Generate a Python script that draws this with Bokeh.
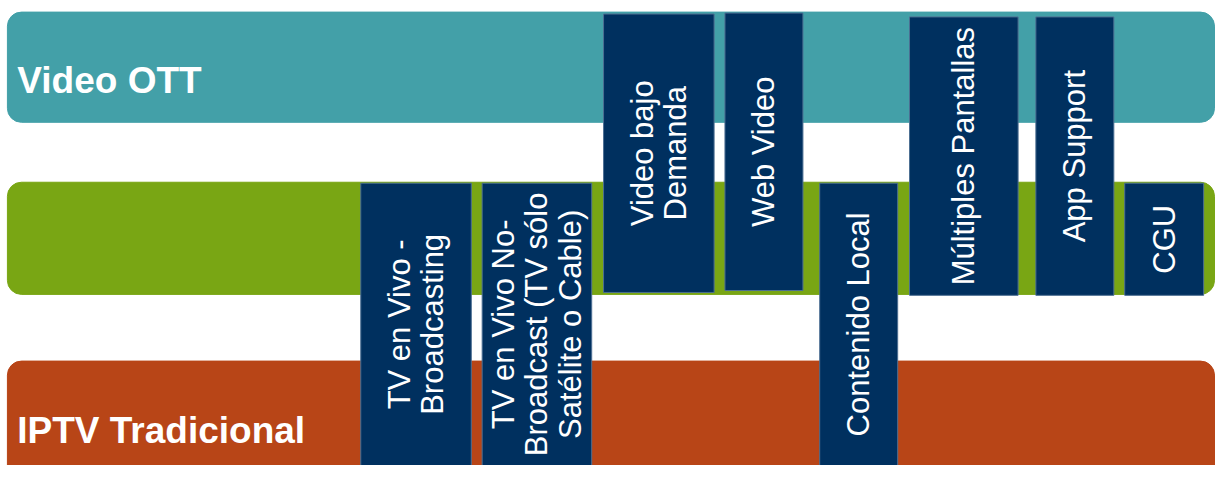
from bokeh.plotting import figure
from bokeh.models import Range1d, ColumnDataSource
from bokeh.core.properties import value
from bokeh.embed import file_html
from bokeh.resources import INLINE
import math

# Horizontal bands (layers)
band_labels = ["Video OTT", "", "IPTV Tradicional"]
band_top = [12, 188, 373]
band_bottom = [126, 304, 500]
band_left = [7, 7, 7]
band_right = [1230, 1230, 1230]
band_colors = ["#43A0A8", "#79A614", "#B84517"]
band_label_baseline = [83, 246, 445]

# Vertical service boxes
box_labels = [
    "TV en Vivo -\nBroadcasting",
    "TV en Vivo No-\nBroadcast (TV sólo\nSatélite o Cable)",
    "Video bajo\nDemanda",
    "Web Video",
    "Contenido Local",
    "Múltiples Pantallas",
    "App Support",
    "CGU",
]
box_left = [365, 488, 611, 734, 830, 921, 1049, 1139]
box_right = [477, 599, 723, 813, 909, 1031, 1128, 1219]
box_top = [189, 189, 14, 13, 189, 17, 17, 189]
box_bottom = [490, 490, 302, 300, 490, 305, 305, 305]

p = figure(width=1215, height=465, output_backend="svg", toolbar_location=None,
           x_range=Range1d(0, 1231), y_range=Range1d(481, 0),
           min_border=0, outline_line_color=None, background_fill_color="white",
           border_fill_color="white")
p.axis.visible = False
p.grid.visible = False

bsrc = ColumnDataSource(dict(left=band_left, right=band_right, top=band_top,
                             bottom=band_bottom, color=band_colors))
p.quad(left="left", right="right", top="top", bottom="bottom", source=bsrc,
       fill_color="color", line_color="color", border_radius=14)

p.text(x=[17, 17], y=[band_label_baseline[0], band_label_baseline[2]],
       text=[band_labels[0], band_labels[2]], text_color="white",
       text_font=value("Liberation Sans"), text_font_style="bold",
       text_font_size="37px", text_baseline="alphabetic", text_align="left")

cy = []
for t, b in zip(box_top, box_bottom):
    cy.append((t + min(b, 481)) / 2)
src = ColumnDataSource(dict(left=box_left, right=box_right, top=box_top, bottom=box_bottom,
                            label=box_labels,
                            cx=[(a + b) / 2 for a, b in zip(box_left, box_right)],
                            cy=cy))
p.quad(left="left", right="right", top="top", bottom="bottom", source=src,
       fill_color="#00305F", line_color="#4d6f93", line_width=1)
p.text(x="cx", y="cy", text="label", source=src, angle=math.pi / 2,
       text_color="white", text_font=value("Liberation Sans"), text_font_size="31px",
       text_align="center", text_baseline="middle", text_line_height=0.95)

open("out.html", "w").write(file_html(p, INLINE))
